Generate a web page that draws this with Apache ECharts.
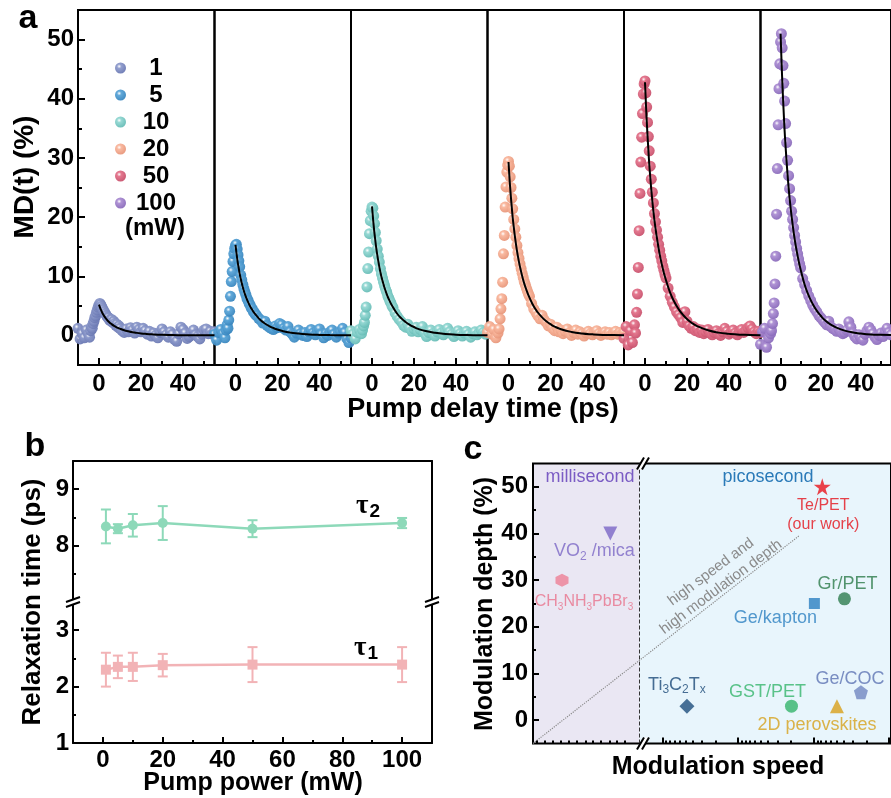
<!DOCTYPE html>
<html><head><meta charset="utf-8">
<script src="https://cdn.jsdelivr.net/npm/echarts@6.0.0/dist/echarts.min.js"></script>
<style>html,body{margin:0;padding:0;background:#fff}#c{width:891px;height:798px}</style>
</head><body><div id="c"></div>
<script>
// ---------------- DATA ----------------
// panel a: pump delay times (ps), shared by all pump powers
const delayTimes = [-10,-9,-8,-7,-6,-5,-4.5,-4,-3.6,-3.2,-2.8,-2.4,-2,-1.6,-1.2,-0.8,-0.4,0,0.4,0.8,1.2,1.6,2,2.5,3,3.5,4,4.5,5,5.5,6,6.5,7,7.5,8,8.5,9,9.5,10,11,12,13,14,15,16,17,18,19,20,21,22,23,24,25,26,27,28,29,30,31,32,33,34,35,36,37,38,39,40,41,42,43,44,45,46,47,48,49,50,51,52,53,54,55];
const powerNames = ['1','5','10','20','50','100'];
const md1 = [1.2,-0.6,0.3,-0.4,0.9,0.2,-0.3,0.8, 1.4,1.2,2.0,2.4,3.0,3.3,3.9,4.3,4.8,5.1, 5.4,5.2,4.9,4.6,4.3, 4.0,3.7,3.4,3.1,3.0,2.6,2.5,2.7,2.2,2.4,2.0,1.7,1.9,1.4,1.6,1.2,
  0.8,0.5,1.1,0.6,1.3,0.9,0.4,1.4,1.0,0.6,1.2,0.8,0.2,0.7,-0.1,0.4,0.0,-0.4,0.5,1.1,0.6,0.1,-0.3,0.6,0.2,-0.7,-1.0,0.3,1.4,1.0,0.4,-0.5,-0.2,0.5,0.9,0.1,-0.2,-0.6,0.2,0.9,1.1,0.3,0.7,0.2,0.6];
const md5 = [0.2,-0.8,0.5,1.0,0.3,-0.4,0.9,1.8, 1.2,2.6,4.1,6.6,9.1,10.8,12.5,13.8,14.7,15.2, 15.4,14.6,13.6,12.6,11.6, 10.2,9.4,8.6,7.9,7.3,6.8,6.2,5.9,5.4,5.1,4.6,4.5,4.0,3.9,3.5,3.4,
  2.9,2.6,2.1,2.4,1.7,1.4,1.2,1.0,1.6,1.3,2.0,1.8,1.2,0.9,1.5,0.6,0.2,-0.3,0.4,0.9,0.3,0.0,0.5,-0.2,0.6,1.0,0.4,0.1,0.8,1.1,0.2,-0.4,0.3,0.0,0.6,0.9,0.2,-0.3,0.4,0.7,1.2,0.5,-0.5,-1.2,-0.4];
const md10 = [0.8,0.2,-0.6,0.5,1.0,0.3,0.9,1.6, 2.2,3.4,4.8,8.2,11.3,14.1,17.2,19.4,21.0,21.7, 21.5,20.2,18.9,17.4,16.0, 14.6,13.4,12.4,11.3,10.4,9.7,9.0,8.4,7.8,7.3,6.7,6.3,5.8,5.5,5.0,4.7,
  3.8,3.2,2.7,2.3,1.7,1.4,1.9,1.2,0.7,1.1,1.4,0.6,1.0,1.5,0.4,-0.2,0.5,0.9,0.3,-0.1,0.6,1.0,0.4,0.1,0.8,1.2,0.6,0.2,-0.2,0.5,0.8,0.3,-0.1,0.4,0.7,0.2,-0.3,0.3,0.6,0.1,0.4,0.9,0.5,0.2,0.7];
const md20 = [0.5,1.5,0.2,1.0,-0.4,0.4,1.1,2.8, 4.5,6.2,9.0,13.8,16.9,21.7,25.1,27.6,28.8,29.4, 28.6,26.8,25.0,23.2,21.4, 19.6,18.0,16.6,15.2,14.0,13.0,12.1,11.3,10.5,9.8,9.1,8.6,8.0,7.5,7.0,6.6,
  5.4,4.5,3.9,3.3,2.8,3.4,2.6,2.2,1.6,1.9,1.2,0.8,1.4,0.6,0.9,0.3,0.7,1.1,0.4,0.0,0.5,0.9,0.2,0.6,0.3,-0.1,0.4,0.7,0.3,0.1,0.5,0.8,0.3,0.0,0.4,0.6,0.2,0.5,0.1,0.4,0.7,0.2,0.5,0.3,0.6];
const md50 = [-0.5,1.5,-1.6,0.8,-1.2,1.8,0.4,3.9, 7.0,11.5,17.7,24.0,29.3,33.5,37.5,40.8,42.5,43.0, 41.0,38.6,36.0,33.6,31.2, 28.6,26.4,24.2,22.4,20.6,19.2,17.8,16.6,15.4,14.4,13.4,12.6,11.7,11.0,10.3,9.7,
  8.0,6.6,5.6,4.8,4.0,3.5,3.0,2.2,4.0,2.4,1.6,1.2,1.5,0.8,1.1,0.5,0.9,0.3,0.6,1.0,0.4,0.1,0.5,0.8,0.3,0.0,0.6,1.2,0.7,0.2,0.5,0.9,0.4,0.1,0.6,1.0,0.5,0.8,1.3,1.6,1.1,0.6,0.3,0.7,0.5];
const md100 = [-1.5,0.6,1.2,-2.0,-0.4,0.3,0.8,2.0, 3.7,5.5,8.7,13.4,20.5,28.2,35.6,41.7,45.9,49.6, 51.0,48.6,45.6,42.6,39.6, 35.8,32.6,29.6,27.0,24.8,22.8,21.0,19.6,18.2,16.9,15.8,14.7,13.8,12.9,12.1,11.4,
  9.6,8.6,7.6,6.7,5.9,5.1,4.5,4.0,3.4,3.0,2.6,2.2,1.8,2.4,1.5,1.2,1.0,0.7,1.1,0.6,0.3,0.5,0.9,2.3,1.4,0.4,-0.2,-0.6,0.1,-0.4,-0.8,0.2,0.8,1.4,0.9,0.3,-0.3,-0.7,0.0,0.4,-0.2,0.6,1.2,0.5,0.1];
// fitted curves (black lines)
const fitTimes = [0,0.5,1,1.5,2,2.5,3,4,5,6,7,8,9,10,12,14,16,18,20,22,25,30,35,40,45,50,55];
const fit1 = [5.2,4.7,4.26,3.88,3.54,3.26,3.0,2.55,2.2,1.91,1.66,1.46,1.28,1.13,0.87,0.69,0.54,0.43,0.34,0.27,0.19,0.1,0.06,0.03,0.02,0.01,0.01];
const fit5 = [15.3,13.82,12.53,11.43,10.4,9.58,8.81,7.5,6.47,5.63,4.9,4.3,3.78,3.34,2.57,2.02,1.59,1.25,0.99,0.78,0.55,0.31,0.17,0.09,0.05,0.03,0.02];
const fit10 = [21.8,19.69,17.85,16.28,14.82,13.65,12.56,10.68,9.22,8.02,6.98,6.13,5.38,4.75,3.66,2.88,2.27,1.79,1.42,1.11,0.78,0.44,0.24,0.13,0.07,0.04,0.02];
const fit20 = [29.3,26.46,24.0,21.89,19.92,18.34,16.88,14.36,12.39,10.78,9.38,8.23,7.24,6.39,4.92,3.87,3.05,2.4,1.9,1.49,1.05,0.59,0.32,0.18,0.09,0.06,0.03];
const fit50 = [42.8,38.65,35.05,31.97,29.1,26.79,24.65,20.97,18.1,15.75,13.7,12.03,10.57,9.33,7.19,5.65,4.45,3.51,2.78,2.18,1.54,0.86,0.47,0.26,0.13,0.09,0.04];
const fit100 = [51,46.05,41.77,38.1,34.68,31.93,29.38,24.99,21.57,18.77,16.32,14.33,12.6,11.12,8.57,6.73,5.3,4.18,3.32,2.6,1.84,1.02,0.56,0.31,0.15,0.1,0.05];
const mdSeries = [md1, md5, md10, md20, md50, md100];
const fitSeries = [fit1, fit5, fit10, fit20, fit50, fit100];

// panel b
const pumpPower = [1,5,10,20,50,100];
const tau2 = [8.34,8.30,8.36,8.40,8.30,8.40];
const tau2Err = [0.30,0.08,0.20,0.30,0.15,0.09];
const tau1 = [2.30,2.35,2.35,2.38,2.39,2.39];
const tau1Err = [0.30,0.20,0.25,0.20,0.31,0.31];

// panel c
const materials = ['CH3NH3PbBr3','VO2/mica','Te/PET','Gr/PET','Ge/kapton','Ti3C2Tx','GST/PET','2D perovskites','Ge/COC'];
const speedIndex = [8.1,21.6,80.8,87.0,78.6,43.0,72.2,84.9,91.6];
const modDepth = [30,40,50,26,25,3,3,3,6];
const regionBreak = 29.7;

// tick values
const aXTicks = [0,20,40], aXMinor = [10,30,50];
const aYTicks = [0,10,20,30,40,50], aYMinor = [5,15,25,35,45];
const bXTicks = [0,20,40,60,80,100], bXMinor = [10,30,50,70,90];
const bYUp = [8,9], bYUpMinor = [7.5,8.5], bYLow = [1,2,3], bYLowMinor = [1.5,2.5];
const cXMajor = [36.2,57.3,78.4,99.5];
const cXMinor = [1.1,3.2,5.4,7.8,10.0,12.2,14.6,16.8,18.9,21.4,23.5,25.7,
  37.2,38.2,39.5,40.9,42.6,44.6,47.2,51.0, 58.3,59.3,60.6,62.0,63.7,65.7,68.3,72.1, 79.4,80.4,81.7,83.1,84.8,86.8,89.4,93.2];

// ---------------- STYLE ----------------
const FONT = "'Liberation Sans', Arial, Helvetica, sans-serif";
const sphereColors = [['#8e9bcc','#6c7ab4'],['#5aa5d8','#3a87bf'],['#92d7d2','#68bdb7'],['#f9b69c','#e8977b'],['#e3728a','#c9536e'],['#ab8dd2','#8b6cbc']];
const sphere = (c) => ({type:'radial', x:0.38, y:0.35, r:0.65, colorStops:[{offset:0,color:'#ffffff'},{offset:0.3,color:c[0]},{offset:1,color:c[1]}]});

const base = (o) => Object.assign({type:'value', splitLine:{show:false}, axisLine:{show:false,onZero:false}, axisTick:{show:false}, axisLabel:{show:false}, minorTick:{show:false}, minorSplitLine:{show:false}}, o);
const ticks = (vals, len) => ({show:true, inside:true, length:len, customValues:vals, lineStyle:{color:'#000', width:2}});
const labels = (vals, margin) => ({show:true, customValues:vals, margin:margin, color:'#000', fontSize:24, fontWeight:'bold', fontFamily:FONT});
const axLine = {show:true, onZero:false, lineStyle:{color:'#000', width:2}};

const grids = [], xAxes = [], yAxes = [], series = [];
const aLeft = [78, 214.5, 351, 487.5, 624, 760.5];
aLeft.forEach((l, i) => {
  grids.push({left:l, top:10, width:136.5, height:355, show:true, borderColor:'#000', borderWidth:2, z:1});
  xAxes.push(base({gridIndex:i, min:-10, max:55, position:'bottom', axisTick:ticks(aXTicks,7), axisLabel:labels(aXTicks,7)}));
  xAxes.push(base({gridIndex:i, min:-10, max:55, position:'bottom', axisTick:ticks(aXMinor,4)}));
  if (i === 0) yAxes.push(base({gridIndex:0, min:-5, max:55, position:'left', axisTick:ticks(aYTicks,7), axisLabel:labels(aYTicks,4)}));
  else yAxes.push(base({gridIndex:i, min:-5, max:55, position:'left'}));
});
yAxes.push(base({gridIndex:0, min:-5, max:55, position:'left', axisTick:ticks(aYMinor,4)})); // y index 6

// panel b grids 6 (upper), 7 (lower)
grids.push({left:73, top:461, width:359, height:141});
grids.push({left:73, top:602, width:359, height:141});
xAxes.push(base({gridIndex:6, min:-10, max:110, position:'top', axisLine:axLine}));               // 12
xAxes.push(base({gridIndex:7, min:-10, max:110, position:'bottom', axisLine:axLine, axisTick:ticks(bXTicks,6), axisLabel:labels(bXTicks,5)})); // 13
xAxes.push(base({gridIndex:7, min:-10, max:110, position:'bottom', axisTick:ticks(bXMinor,3)}));  // 14
yAxes.push(base({gridIndex:6, min:7, max:9.5, position:'left', axisLine:axLine, axisTick:ticks(bYUp,6), axisLabel:labels(bYUp,4)})); // 7
yAxes.push(base({gridIndex:6, min:7, max:9.5, position:'left', axisTick:ticks(bYUpMinor,3)}));  // 8
yAxes.push(base({gridIndex:6, min:7, max:9.5, position:'right', axisLine:axLine}));             // 9
yAxes.push(base({gridIndex:7, min:1, max:3.5, position:'left', axisLine:axLine, axisTick:ticks(bYLow,6), axisLabel:labels(bYLow,4)})); // 10
yAxes.push(base({gridIndex:7, min:1, max:3.5, position:'left', axisTick:ticks(bYLowMinor,3)}));  // 11
yAxes.push(base({gridIndex:7, min:1, max:3.5, position:'right', axisLine:axLine}));             // 12

// panel c grid 8
grids.push({left:533, top:463.5, width:370, height:280, show:true, borderColor:'#000', borderWidth:2, z:5});
xAxes.push(base({gridIndex:8, min:0, max:100, position:'bottom', z:6, axisTick:ticks(cXMajor,6)}));  // 15
xAxes.push(base({gridIndex:8, min:0, max:100, position:'bottom', z:6, axisTick:ticks(cXMinor,3)}));  // 16
yAxes.push(base({gridIndex:8, min:-5, max:55, position:'left', z:6, axisTick:ticks(aYTicks,6), axisLabel:labels(aYTicks,5)})); // 13
yAxes.push(base({gridIndex:8, min:-5, max:55, position:'left', z:6, axisTick:ticks(aYMinor,3)})); // 14

// panel a series
mdSeries.forEach((arr, i) => {
  series.push({type:'scatter', name:powerNames[i], xAxisIndex:2*i, yAxisIndex:i, symbolSize:11, z:2,
    itemStyle:{color:sphere(sphereColors[i]), opacity:0.95},
    data: delayTimes.map((t, k) => [t, arr[k]]), emphasis:{disabled:true}, silent:true});
  series.push({type:'line', name:'fit'+powerNames[i], xAxisIndex:2*i, yAxisIndex:i, smooth:true, showSymbol:false, z:4,
    lineStyle:{color:'#000', width:2}, itemStyle:{color:'#000'},
    data: fitTimes.map((t, k) => [t, fitSeries[i][k]]), silent:true});
});

// panel b series
const cTau2 = '#8dd9b9', cTau1 = '#f2b3b6';
function errSeries(name, xi, yi, ys, es, color) {
  return {type:'custom', name, xAxisIndex:xi, yAxisIndex:yi, z:3, silent:true,
    data: pumpPower.map((x, i) => [x, ys[i], es[i]]), encode:{x:0, y:1},
    renderItem: (params, api) => {
      const x = api.value(0), y = api.value(1), e = api.value(2);
      const t = api.coord([x, y + e]), b = api.coord([x, y - e]);
      const w = 5, st = {stroke:color, lineWidth:2};
      return {type:'group', children:[
        {type:'line', shape:{x1:t[0], y1:t[1], x2:b[0], y2:b[1]}, style:st},
        {type:'line', shape:{x1:t[0]-w, y1:t[1], x2:t[0]+w, y2:t[1]}, style:st},
        {type:'line', shape:{x1:b[0]-w, y1:b[1], x2:b[0]+w, y2:b[1]}, style:st}]};
    }};
}
series.push({type:'line', name:'tau2', xAxisIndex:12, yAxisIndex:7, symbol:'circle', symbolSize:10, z:4,
  lineStyle:{color:cTau2, width:2.5}, itemStyle:{color:cTau2}, data: pumpPower.map((p, i) => [p, tau2[i]]), silent:true});
series.push(errSeries('tau2err', 12, 7, tau2, tau2Err, cTau2));
series.push({type:'line', name:'tau1', xAxisIndex:13, yAxisIndex:10, symbol:'rect', symbolSize:10, z:4,
  lineStyle:{color:cTau1, width:2.5}, itemStyle:{color:cTau1}, data: pumpPower.map((p, i) => [p, tau1[i]]), silent:true});
series.push(errSeries('tau1err', 13, 10, tau1, tau1Err, cTau1));

// panel c series
const HEX = 'path://M0,-1L0.866,-0.5L0.866,0.5L0,1L-0.866,0.5L-0.866,-0.5Z';
const PENT = 'path://M0,-1L0.951,-0.309L0.588,0.809L-0.588,0.809L-0.951,-0.309Z';
const STAR = 'path://M0,-1L0.225,-0.309L0.951,-0.309L0.363,0.118L0.588,0.809L0,0.382L-0.588,0.809L-0.363,0.118L-0.951,-0.309L-0.225,-0.309Z';
const matStyle = [
  {symbol:HEX, size:13, rot:0, color:'#ee7f95', text:'{n|CH}{s|3}{n|NH}{s|3}{n|PbBr}{s|3}', off:[22,21], fs:16},
  {symbol:'triangle', size:14, rot:180, color:'#7a66c6', text:'{n|VO}{s|2}{n| /mica}', off:[-16,18], fs:18},
  {symbol:STAR, size:17, rot:0, color:'#e8141c', text:'Te/PET\n(our work)', off:[1,28], fs:16},
  {symbol:'circle', size:13, rot:0, color:'#2e7d4f', text:'Gr/PET', off:[3,-15], fs:18},
  {symbol:'rect', size:11, rot:0, color:'#2a7fc0', text:'Ge/kapton', off:[-39,15], fs:18},
  {symbol:'diamond', size:15, rot:0, color:'#1d4e7c', text:'{n|Ti}{s|3}{n|C}{s|2}{n|T}{s|x}', off:[-10,-21], fs:18},
  {symbol:'circle', size:13, rot:0, color:'#33b46a', text:'GST/PET', off:[-24,-14], fs:18},
  {symbol:'triangle', size:14, rot:0, color:'#d8a01a', text:'2D perovskites', off:[-20,19], fs:18},
  {symbol:PENT, size:14, rot:0, color:'#7087c0', text:'Ge/COC', off:[-11,-13], fs:18}
];
const labelColors = ['#e8738c','#7c68c5','#e3131b','#2a7a48','#2a7fc0','#1b4a78','#35b56c','#d6a11c','#5d73b3'];
series.push({type:'scatter', name:'materials', xAxisIndex:15, yAxisIndex:13, z:3, silent:true,
  data: materials.map((m, i) => {
    const s = matStyle[i], lc = labelColors[i];
    return {name:m, value:[speedIndex[i], modDepth[i]], symbol:s.symbol, symbolSize:s.size, symbolRotate:s.rot,
      itemStyle:{color:s.color},
      label:{show:true, position:'inside', offset:s.off, formatter:s.text, color:lc, fontSize:s.fs, lineHeight:19,
        fontFamily:FONT, align:'center', verticalAlign:'middle',
        rich:{n:{color:lc, fontSize:s.fs, fontFamily:FONT, lineHeight:22, verticalAlign:'middle'},
              s:{color:lc, fontSize:Math.round(s.fs*0.65), fontFamily:FONT, lineHeight:22, verticalAlign:'bottom'}}}};
  }),
  markArea:{silent:true, itemStyle:{opacity:1}, data:[
    [{xAxis:0, itemStyle:{color:'#eae7f3'}}, {xAxis:regionBreak}],
    [{xAxis:regionBreak, itemStyle:{color:'#e8f5fc'}}, {xAxis:100}]]},
  markLine:{silent:true, symbol:['none','none'], label:{show:false},
    lineStyle:{color:'#333', type:'dashed', width:1}, data:[{xAxis:regionBreak}]}
});
series.push({type:'line', name:'arrow', xAxisIndex:15, yAxisIndex:13, data:[], z:3, silent:true,
  markLine:{silent:true, symbol:['none','arrow'], symbolSize:[0,8], label:{show:false},
    lineStyle:{color:'#8a8a8a', type:'dotted', width:1.2},
    data:[[{coord:[0,-5]},{coord:[74.3,39.5]}]]}});

// ---------------- GRAPHICS (text, break marks) ----------------
const txt = (text, x, y, size, o) => {
  o = o || {};
  return {type:'text', x:x, y:y, rotation:o.rot || 0, z:100,
    style:{text:text, font:(o.weight || 'bold') + ' ' + size + 'px ' + FONT, fill:o.color || '#000',
      align:'center', verticalAlign:'middle', textAlign:'center', textVerticalAlign:'middle'}};
};
function brk(cx, cy, hx, hy, ox, oy) {
  const A0 = [cx-ox-hx, cy-oy-hy], A1 = [cx-ox+hx, cy-oy+hy], B1 = [cx+ox+hx, cy+oy+hy], B0 = [cx+ox-hx, cy+oy-hy];
  return [
    {type:'polygon', z:100, shape:{points:[A0, A1, B1, B0]}, style:{fill:'#fff'}},
    {type:'line', z:101, shape:{x1:A0[0], y1:A0[1], x2:A1[0], y2:A1[1]}, style:{stroke:'#000', lineWidth:2}},
    {type:'line', z:101, shape:{x1:B0[0], y1:B0[1], x2:B1[0], y2:B1[1]}, style:{stroke:'#000', lineWidth:2}}
  ];
}
const tauRich = {t:{font:"bold 27px 'Liberation Serif', serif", fill:'#000'}, s:{font:"bold 19px " + FONT, fill:'#000', padding:[12,0,0,1]}};
const graphics = [
  txt('a', 28, 19, 34), txt('b', 35, 447, 34), txt('c', 473, 450, 34),
  txt('MD(t) (%)', 25, 177, 28, {rot:Math.PI/2}),
  txt('Pump delay time (ps)', 483, 410, 27),
  txt('(mW)', 155, 228, 24),
  txt('Relaxation time (ps)', 33, 602, 26, {rot:Math.PI/2}),
  txt('Pump power (mW)', 253, 783, 25),
  txt('Modulation depth (%)', 485, 604, 25, {rot:Math.PI/2}),
  txt('Modulation speed', 718, 767, 25),
  txt('millisecond', 590, 477, 18, {weight:'normal', color:'#7b5cc4'}),
  txt('picosecond', 768, 477, 18, {weight:'normal', color:'#2a7ab8'}),
  txt('high speed and', 711, 572, 15, {weight:'normal', color:'#8a8a8a', rot:0.64}),
  txt('high modulation depth', 721, 587, 15, {weight:'normal', color:'#8a8a8a', rot:0.64}),
  {type:'text', x:368, y:506, z:100, style:{text:'{t|τ}{s|2}', rich:tauRich, align:'center', verticalAlign:'middle', textAlign:'center', textVerticalAlign:'middle'}},
  {type:'text', x:366, y:648, z:100, style:{text:'{t|τ}{s|1}', rich:tauRich, align:'center', verticalAlign:'middle', textAlign:'center', textVerticalAlign:'middle'}}
].concat(brk(73, 602, 7, -2.5, 0, 2.5), brk(432, 602, 7, -2.5, 0, 2.5),
         brk(643, 463.5, 3.5, -6, 2.5, 0), brk(643, 743.5, 3.5, -6, 2.5, 0));

const chart = echarts.init(document.getElementById('c'), null, {renderer:'canvas'});
chart.setOption({
  animation:false,
  backgroundColor:'#fff',
  grid:grids, xAxis:xAxes, yAxis:yAxes, series:series,
  legend:{orient:'vertical', left:110, top:51, itemWidth:11, itemHeight:11, itemGap:3, icon:'circle', selectedMode:false,
    data:powerNames, formatter:(n) => '{a|' + n + '}',
    textStyle:{rich:{a:{width:50, align:'center', fontSize:24, fontWeight:'bold', fontFamily:FONT, color:'#000', lineHeight:24}}}},
  graphic:{elements:graphics}
});
</script>
</body></html>
